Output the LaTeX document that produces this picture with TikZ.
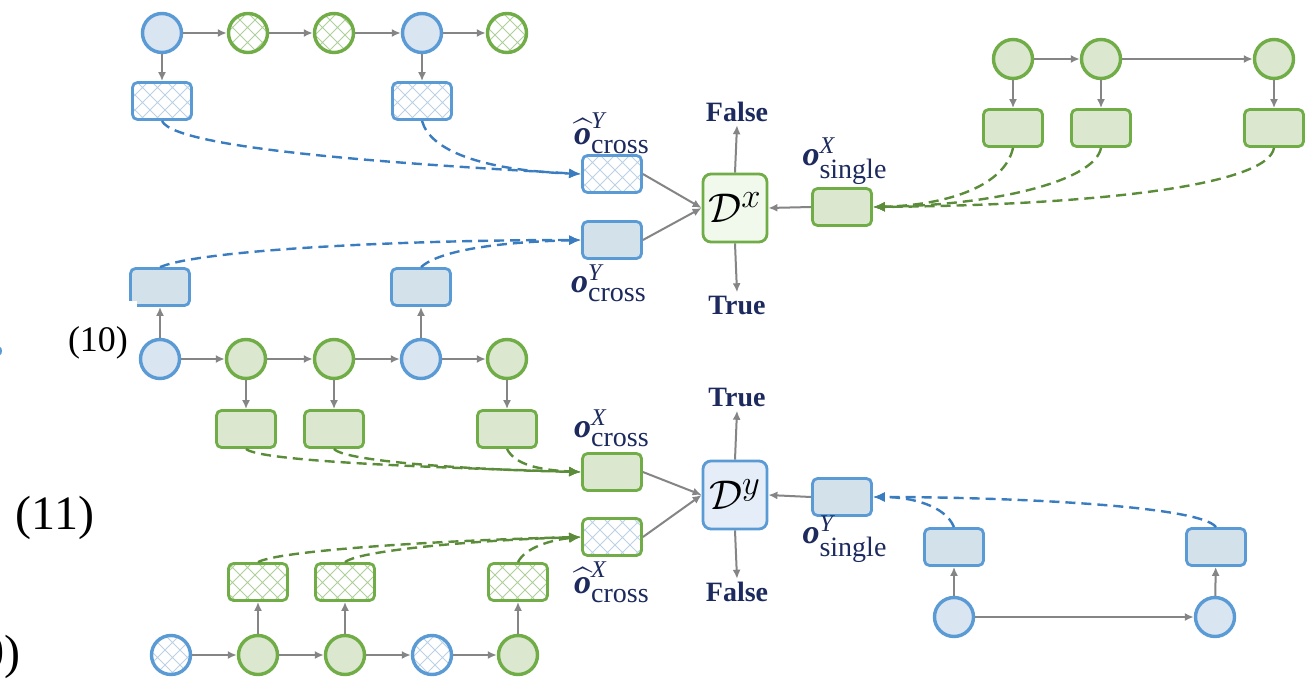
\documentclass[tikz,border=0pt]{standalone}
\usepackage{amsmath}
\usepackage{fontspec}
\setmainfont{Liberation Serif}
\usetikzlibrary{arrows.meta,patterns}
\DeclareMathSizes{22}{22}{16}{11}
\definecolor{bstroke}{HTML}{5B9BD5}
\definecolor{bfill}{HTML}{DAE5F2}
\definecolor{bboxc}{HTML}{D2E1EA}
\definecolor{bDfill}{HTML}{E5EEF8}
\definecolor{bpat}{HTML}{BCD2E4}
\definecolor{gstroke}{HTML}{70AD47}
\definecolor{gfill}{HTML}{DBE8CF}
\definecolor{gDfill}{HTML}{F0F9EC}
\definecolor{gpat}{HTML}{AFCF9A}
\definecolor{dblue}{HTML}{3A7CC0}
\definecolor{dgreen}{HTML}{5B8C3A}
\definecolor{arrowgray}{HTML}{858585}
\definecolor{navy}{HTML}{1C2A5E}
\pgfdeclarepatternformonly{lattice}{\pgfqpoint{-0.5pt}{-0.5pt}}{\pgfqpoint{8pt}{8pt}}{\pgfqpoint{7.5pt}{7.5pt}}{%
  \pgfsetlinewidth{0.5pt}%
  \pgfpathmoveto{\pgfqpoint{0pt}{0pt}}\pgfpathlineto{\pgfqpoint{7.5pt}{7.5pt}}%
  \pgfpathmoveto{\pgfqpoint{0pt}{7.5pt}}\pgfpathlineto{\pgfqpoint{7.5pt}{0pt}}%
  \pgfusepath{stroke}}
\newcommand{\supf}[1]{\text{\fontsize{12}{12}\selectfont\itshape #1}}
\newcommand{\subf}[1]{\text{\fontsize{14}{14}\selectfont #1}}
\newcommand{\olab}[2]{${\textbf{\textit{o}}}^{\supf{#1}}_{\subf{#2}}$}
\newcommand{\holab}[2]{${\widehat{\textbf{\textit{o}}}}^{\supf{#1}}_{\subf{#2}}$}
\begin{document}
\begin{tikzpicture}[x=0.5pt,y=-0.5pt,
  circ/.style={circle, minimum size=19.5pt, inner sep=0pt, line width=1.7pt},
  bc/.style={circ, draw=bstroke, fill=bfill},
  gc/.style={circ, draw=gstroke, fill=gfill},
  bhc/.style={circ, draw=bstroke, pattern=lattice, pattern color=bpat},
  ghc/.style={circ, draw=gstroke, pattern=lattice, pattern color=gpat},
  rbox/.style={rectangle, rounded corners=2.5pt, minimum width=29.5pt, minimum height=18.5pt, inner sep=0pt, line width=1.4pt},
  bb/.style={rbox, draw=bstroke, fill=bboxc},
  gb/.style={rbox, draw=gstroke, fill=gfill},
  bhb/.style={rbox, draw=bstroke, pattern=lattice, pattern color=bpat},
  ghb/.style={rbox, draw=gstroke, pattern=lattice, pattern color=gpat},
  disc/.style={rectangle, rounded corners=4pt, minimum width=32pt, minimum height=34pt, inner sep=0pt, line width=1.4pt, font=\fontsize{22}{24}\selectfont},
  lab/.style={text=navy, font=\fontsize{17}{19}\selectfont, inner sep=0pt},
  tf/.style={text=navy, font=\fontsize{14}{16}\selectfont\bfseries, inner sep=1.5pt},
  ga/.style={draw=arrowgray, line width=1pt, -{Latex[length=4.5pt,width=4pt]}},
  bd/.style={draw=dblue, line width=1.2pt, dash pattern=on 5pt off 3pt, -{Latex[length=6pt,width=5pt]}},
  gd/.style={draw=dgreen, line width=1.2pt, dash pattern=on 5pt off 3pt, -{Latex[length=6pt,width=5pt]}}]
\path[use as bounding box] (0,0) rectangle (1307,680);
\clip (0,0) rectangle (1307,680);
\fill[white] (0,0) rectangle (1307,680);

% ---------- top-left chain ----------
\node[bc]  (a1) at (162,33) {};
\node[ghc] (a2) at (248,33) {};
\node[ghc] (a3) at (334,33) {};
\node[bc]  (a4) at (422,33) {};
\node[ghc] (a5) at (507,33) {};
\node[bhb] (ra1) at (162,101) {};
\node[bhb] (ra4) at (422,101) {};
\draw[ga] (a1) -- (a2);
\draw[ga] (a2) -- (a3);
\draw[ga] (a3) -- (a4);
\draw[ga] (a4) -- (a5);
\draw[ga] (a1) -- (ra1);
\draw[ga] (a4) -- (ra4);

% ---------- D^x ----------
\node[bhb] (hy) at (612,174) {};
\node[bb]  (oy) at (612,240) {};
\node[disc, draw=gstroke, fill=gDfill] (Dx) at (735,208) {$\mathcal{D}^x$};
\node[gb]  (sx) at (842,207) {};
\node[lab] (lhy) at (612,133) {\holab{Y}{cross}};
\node[lab] (loy) at (609,283) {\olab{Y}{cross}};
\node[lab] (lsx) at (845,161) {\olab{X}{single}};
\node[tf] (Fx) at (737,112) {False};
\node[tf] (Tx) at (737,305) {True};
\draw[ga] (hy.east) -- (Dx.west);
\draw[ga] (oy.east) -- (Dx.west);
\draw[ga] (Dx.north) -- (Fx.south);
\draw[ga] (Dx.south) -- (Tx.north);
\draw[ga] (sx.west) -- (Dx.east);

% ---------- right-top chain ----------
\node[gc] (c1) at (1013,59) {};
\node[gc] (c2) at (1101,59) {};
\node[gc] (c3) at (1274,59) {};
\node[gb] (rc1) at (1013,128) {};
\node[gb] (rc2) at (1101,128) {};
\node[gb] (rc3) at (1274,128) {};
\draw[ga] (c1) -- (c2);
\draw[ga] (c2) -- (c3);
\draw[ga] (c1) -- (rc1);
\draw[ga] (c2) -- (rc2);
\draw[ga] (c3) -- (rc3);

% ---------- second chain ----------
\node[bb] (rb1) at (160,287) {};
\node[bb] (rb4) at (421,287) {};
\fill[white] (110,301) rectangle (137,312);
\node[bc] (b1) at (160,359) {};
\node[gc] (b2) at (246,359) {};
\node[gc] (b3) at (334,359) {};
\node[bc] (b4) at (421,359) {};
\node[gc] (b5) at (507,359) {};
\node[gb] (rg2) at (246,429) {};
\node[gb] (rg3) at (334,429) {};
\node[gb] (rg5) at (507,429) {};
\draw[ga] (b1) -- (b2);
\draw[ga] (b2) -- (b3);
\draw[ga] (b3) -- (b4);
\draw[ga] (b4) -- (b5);
\draw[ga] (b1) -- (rb1);
\draw[ga] (b4) -- (rb4);
\draw[ga] (b2) -- (rg2);
\draw[ga] (b3) -- (rg3);
\draw[ga] (b5) -- (rg5);

% ---------- D^y ----------
\node[gb] (ox) at (612,472) {};
\node[rbox, draw=gstroke, pattern=lattice, pattern color=bpat] (hx) at (612,537) {};
\node[disc, draw=bstroke, fill=bDfill] (Dy) at (735,495) {$\mathcal{D}^y$};
\node[bb] (sy) at (842,497) {};
\node[lab] (lox) at (612,428) {\olab{X}{cross}};
\node[lab] (lhx) at (612,582) {\holab{X}{cross}};
\node[lab] (lsy) at (845,539) {\olab{Y}{single}};
\node[tf] (Ty) at (737,398) {True};
\node[tf] (Fy) at (737,592) {False};
\draw[ga] (ox.east) -- (Dy.west);
\draw[ga] (hx.east) -- (Dy.west);
\draw[ga] (Dy.north) -- (Ty.south);
\draw[ga] (Dy.south) -- (Fy.north);
\draw[ga] (sy.west) -- (Dy.east);

% ---------- bottom-right chain ----------
\node[bc] (d1) at (954,617) {};
\node[bc] (d2) at (1215,617) {};
\node[bb] (rd1) at (954,547) {};
\node[bb] (rd2) at (1216,547) {};
\draw[ga] (d1) -- (d2);
\draw[ga] (d1) -- (rd1);
\draw[ga] (d2) -- (rd2);

% ---------- bottom-left chain ----------
\node[bhc] (e1) at (171,655) {};
\node[gc]  (e2) at (258,655) {};
\node[gc]  (e3) at (345,655) {};
\node[bhc] (e4) at (432,655) {};
\node[gc]  (e5) at (518,655) {};
\node[ghb] (re2) at (258,582) {};
\node[ghb] (re3) at (345,582) {};
\node[ghb] (re5) at (518,582) {};
\draw[ga] (e1) -- (e2);
\draw[ga] (e2) -- (e3);
\draw[ga] (e3) -- (e4);
\draw[ga] (e4) -- (e5);
\draw[ga] (e2) -- (re2);
\draw[ga] (e3) -- (re3);
\draw[ga] (e5) -- (re5);

% ---------- dashed connectors ----------
\draw[bd] (ra1.south) .. controls (175,150) and (420,165) .. (hy.west);
\draw[bd] (ra4.south) .. controls (430,150) and (480,170) .. (hy.west);
\draw[bd] (rb1.north) .. controls (200,250) and (400,240) .. (oy.west);
\draw[bd] (rb4.north) .. controls (440,250) and (500,242) .. (oy.west);
\draw[gd] (rc1.south) .. controls (1005,185) and (950,205) .. (sx.east);
\draw[gd] (rc2.south) .. controls (1095,180) and (1000,205) .. (sx.east);
\draw[gd] (rc3.south) .. controls (1268,185) and (1100,205) .. (sx.east);
\draw[gd] (rg2.south) .. controls (260,462) and (450,468) .. (ox.west);
\draw[gd] (rg3.south) .. controls (345,462) and (480,470) .. (ox.west);
\draw[gd] (rg5.south) .. controls (515,465) and (540,470) .. (ox.west);
\draw[gd] (re2.north) .. controls (280,550) and (450,540) .. (hx.west);
\draw[gd] (re3.north) .. controls (360,550) and (480,540) .. (hx.west);
\draw[gd] (re5.north) .. controls (525,548) and (550,540) .. (hx.west);
\draw[bd] (rd1.north) .. controls (945,505) and (910,497) .. (sy.east);
\draw[bd] (rd2.north) .. controls (1200,505) and (1000,497) .. (sy.east);

% ---------- equation numbers and fragments ----------
\node[font=\fontsize{18}{20}\selectfont, inner sep=0pt] (n10) at (98,343) {(10)};
\node[font=\fontsize{24}{26}\selectfont, inner sep=0pt] (n11) at (55,518) {(11)};
\node[font=\fontsize{24}{26}\selectfont, inner sep=0pt, anchor=base east] (n12) at (21,668) {(10)};
\fill[bstroke] (0,351) ellipse [x radius=2, y radius=4];
\end{tikzpicture}
\end{document}
